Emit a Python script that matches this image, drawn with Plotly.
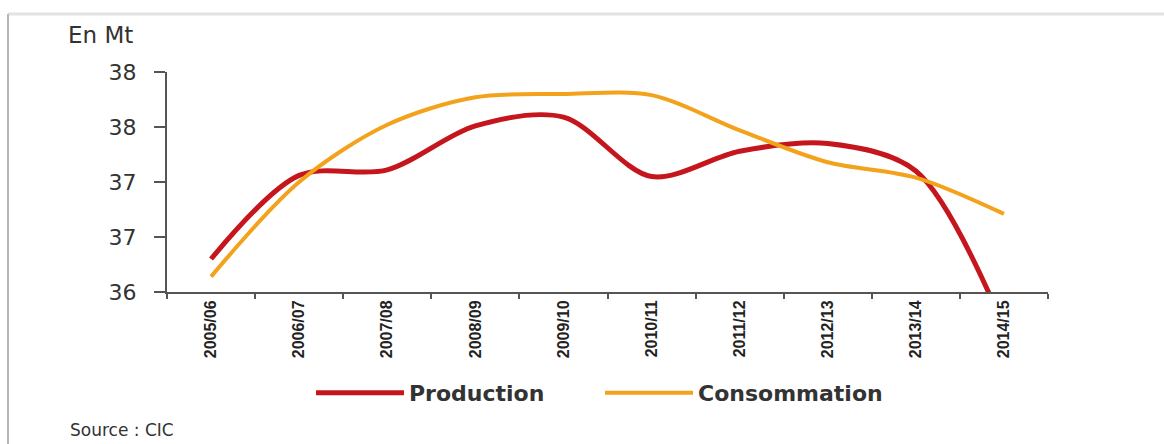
import plotly.graph_objects as go

# ---- data ----
campagnes = ["2005/06", "2006/07", "2007/08", "2008/09", "2009/10",
             "2010/11", "2011/12", "2012/13", "2013/14", "2014/15"]
production = [36.30, 37.06, 37.11, 37.51, 37.59, 37.05, 37.28, 37.35, 37.10, 35.68]
consommation = [36.14, 37.00, 37.52, 37.77, 37.80, 37.79, 37.47, 37.18, 37.04, 36.71]
y_tick_values = [36, 36.5, 37, 37.5, 38]
y_tick_labels = ["36", "37", "37", "38", "38"]

# ---- geometry (pixels) ----
W, H = 1164, 444
L, R, T, B = 167, 1048, 72, 292


def xp(px):
    return (px - L) / (R - L)


def yp(py):
    return (B - py) / (B - T)


RED = "#c4161c"
ORANGE = "#f3a21b"
TXT = "#333333"

fig = go.Figure()
fig.add_trace(go.Scatter(
    x=campagnes, y=production, name="Production", mode="lines",
    line=dict(color=RED, width=5, shape="spline", smoothing=0.9),
))
fig.add_trace(go.Scatter(
    x=campagnes, y=consommation, name="Consommation", mode="lines",
    line=dict(color=ORANGE, width=4, shape="spline", smoothing=0.9),
))

fig.update_layout(
    width=W, height=H,
    margin=dict(l=L, r=W - R, t=T, b=H - B, pad=0),
    paper_bgcolor="white", plot_bgcolor="white",
    showlegend=True,
    legend=dict(
        orientation="h", x=xp(600), xanchor="center", y=yp(393), yanchor="middle",
        font=dict(family="DejaVu Sans", size=22, color=TXT, weight="bold"),
        itemwidth=88, entrywidth=186, bgcolor="rgba(0,0,0,0)",
    ),
    xaxis=dict(
        type="category", range=[-0.5, len(campagnes) - 0.5],
        showgrid=False, zeroline=False,
        showline=True, linecolor="#555555", linewidth=2,
        ticks="outside", tickson="boundaries", ticklen=5, tickwidth=2, tickcolor="#555555",
        tickangle=-90,
        tickfont=dict(family="Liberation Sans, Arial, sans-serif", size=16, color="#222222",
                      weight="bold"),
        fixedrange=True,
    ),
    yaxis=dict(
        range=[36, 38], showgrid=False, zeroline=False,
        showline=True, linecolor="#555555", linewidth=2,
        ticks="outside", ticklen=11, tickwidth=2, tickcolor="#555555",
        tickvals=y_tick_values, ticktext=y_tick_labels,
        tickfont=dict(family="DejaVu Sans", size=22, color=TXT),
        ticklabelstandoff=13,
        fixedrange=True,
    ),
    annotations=[
        dict(text="En Mt", xref="paper", yref="paper", x=xp(66), y=yp(35),
             xanchor="left", yanchor="middle", showarrow=False,
             font=dict(family="DejaVu Sans", size=23, color=TXT)),
        dict(text="Source : CIC", xref="paper", yref="paper", x=xp(68), y=yp(430),
             xanchor="left", yanchor="middle", showarrow=False,
             font=dict(family="DejaVu Sans", size=17, color=TXT)),
    ],
    shapes=[
        dict(type="line", xref="paper", yref="paper", x0=xp(8), x1=xp(1164), y0=yp(14), y1=yp(14),
             line=dict(color="#e2e2e2", width=3), layer="below"),
        dict(type="line", xref="paper", yref="paper", x0=xp(8), x1=xp(8), y0=yp(14), y1=yp(444),
             line=dict(color="#b5b5b5", width=2), layer="below"),
    ],
)

fig.write_html("out.html")
